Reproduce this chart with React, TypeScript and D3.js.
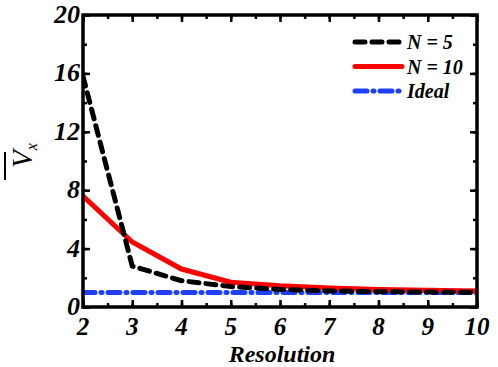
import React, { useEffect, useRef } from 'react';
import * as d3 from 'd3';

const resolution = [2, 3, 4, 5, 6, 7, 8, 9, 10];
const n5 = [15.8, 2.8, 1.8, 1.4, 1.2, 1.1, 1.05, 1.02, 1.0];
const n10 = [7.6, 4.45, 2.6, 1.7, 1.45, 1.3, 1.2, 1.15, 1.1];
const ideal = [1, 1, 1, 1, 1, 1, 1, 1, 1];
const xTicks = [2, 3, 4, 5, 6, 7, 8, 9, 10];
const yTicks = [0, 4, 8, 12, 16, 20];
const seriesNames = ['N = 5', 'N = 10', 'Ideal'];

const App = () => {
  const svgRef = useRef<SVGSVGElement>(null);

  useEffect(() => {
    const svg = d3.select(svgRef.current);
    svg.selectAll('*').remove();

    const left = 83, right = 477, top = 15, bottom = 307;
    const x = d3.scaleLinear().domain([2, 10]).range([left, right]);
    const y = d3.scaleLinear().domain([0, 20]).range([bottom, top]);
    const font = "'Liberation Serif', 'Times New Roman', serif";

    const series = [
      { name: seriesNames[0], values: n5, color: '#000000', dash: '10 7' },
      { name: seriesNames[1], values: n10, color: '#ff0000', dash: null },
      { name: seriesNames[2], values: ideal, color: '#1f3fff', dash: '12 6 1 6' },
    ];

    const line = d3
      .line<number>()
      .x((d, i) => x(resolution[i]))
      .y((d) => y(d));

    const plot = svg.append('g');
    plot
      .append('clipPath')
      .attr('id', 'clip')
      .append('rect')
      .attr('x', left)
      .attr('y', top)
      .attr('width', right - left)
      .attr('height', bottom - top);

    // ideal first, then N=10, then N=5 on top
    [series[2], series[1], series[0]].forEach((s) => {
      plot
        .append('path')
        .datum(s.values)
        .attr('clip-path', 'url(#clip)')
        .attr('fill', 'none')
        .attr('stroke', s.color)
        .attr('stroke-width', 5)
        .attr('stroke-linecap', 'round')
        .attr('stroke-dasharray', s.dash)
        .attr('d', line);
    });

    // ticks, inward, on all four sides
    const axisStyle = (g: any) => {
      g.select('.domain').remove();
      g.selectAll('.tick line').attr('stroke', '#000').attr('stroke-width', 2.5);
      g.selectAll('.tick text').remove();
    };
    const xMinor = d3.range(2, 10.01, 0.5);
    const yMinor = d3.range(0, 20.01, 2);
    svg.append('g').attr('transform', `translate(0,${bottom})`)
      .call(d3.axisTop(x).tickValues(xMinor).tickSize(4)).call(axisStyle);
    svg.append('g').attr('transform', `translate(0,${bottom})`)
      .call(d3.axisTop(x).tickValues(xTicks).tickSize(7)).call(axisStyle);
    svg.append('g').attr('transform', `translate(0,${top})`)
      .call(d3.axisBottom(x).tickValues(xMinor).tickSize(4)).call(axisStyle);
    svg.append('g').attr('transform', `translate(0,${top})`)
      .call(d3.axisBottom(x).tickValues(xTicks).tickSize(7)).call(axisStyle);
    svg.append('g').attr('transform', `translate(${left},0)`)
      .call(d3.axisRight(y).tickValues(yMinor).tickSize(4)).call(axisStyle);
    svg.append('g').attr('transform', `translate(${left},0)`)
      .call(d3.axisRight(y).tickValues(yTicks).tickSize(7)).call(axisStyle);
    svg.append('g').attr('transform', `translate(${right},0)`)
      .call(d3.axisLeft(y).tickValues(yMinor).tickSize(4)).call(axisStyle);
    svg.append('g').attr('transform', `translate(${right},0)`)
      .call(d3.axisLeft(y).tickValues(yTicks).tickSize(7)).call(axisStyle);

    // frame
    svg
      .append('rect')
      .attr('x', left)
      .attr('y', top)
      .attr('width', right - left)
      .attr('height', bottom - top)
      .attr('fill', 'none')
      .attr('stroke', '#000')
      .attr('stroke-width', 3.5);

    // tick labels
    svg
      .append('g')
      .selectAll('text')
      .data(xTicks)
      .join('text')
      .attr('x', (d) => x(d))
      .attr('y', bottom + 28)
      .attr('text-anchor', 'middle')
      .attr('font-family', font)
      .attr('font-weight', 'bold')
      .attr('font-style', 'italic')
      .attr('font-size', 25)
      .text((d) => d);

    svg
      .append('g')
      .selectAll('text')
      .data(yTicks)
      .join('text')
      .attr('x', left - 3)
      .attr('y', (d) => y(d) + 8)
      .attr('text-anchor', 'end')
      .attr('font-family', font)
      .attr('font-weight', 'bold')
      .attr('font-style', 'italic')
      .attr('font-size', 26)
      .text((d) => d);

    // axis titles
    svg
      .append('text')
      .attr('x', 282)
      .attr('y', 362)
      .attr('text-anchor', 'middle')
      .attr('font-family', font)
      .attr('font-weight', 'bold')
      .attr('font-style', 'italic')
      .attr('font-size', 24)
      .text('Resolution');

    const yl = svg.append('g').attr('transform', 'translate(32,168) rotate(-90)');
    const yt = yl
      .append('text')
      .attr('x', 0)
      .attr('y', 0)
      .attr('font-family', font)
      .attr('font-style', 'italic')
      .attr('font-size', 29);
    yt.append('tspan').text('V');
    yt.append('tspan').attr('font-size', 16).attr('dy', 5).text('x');
    yl.append('line')
      .attr('x1', -12)
      .attr('x2', 16)
      .attr('y1', -27)
      .attr('y2', -27)
      .attr('stroke', '#000')
      .attr('stroke-width', 2);

    // legend
    const legend = svg.append('g');
    series.forEach((s, i) => {
      const ly = 42 + i * 24.5;
      legend
        .append('line')
        .attr('x1', 355)
        .attr('x2', 402)
        .attr('y1', ly)
        .attr('y2', ly)
        .attr('stroke', s.color)
        .attr('stroke-width', 5)
        .attr('stroke-linecap', 'round')
        .attr('stroke-dasharray', s.dash);
      legend
        .append('text')
        .attr('x', 407)
        .attr('y', ly + 7)
        .attr('font-family', font)
        .attr('font-weight', 'bold')
        .attr('font-style', 'italic')
        .attr('font-size', 20)
        .text(s.name);
    });
  }, []);

  return (
    <svg
      ref={svgRef}
      width={498}
      height={367}
      style={{ position: 'absolute', left: 0, top: 0, background: '#fff' }}
    />
  );
};

export default App;
